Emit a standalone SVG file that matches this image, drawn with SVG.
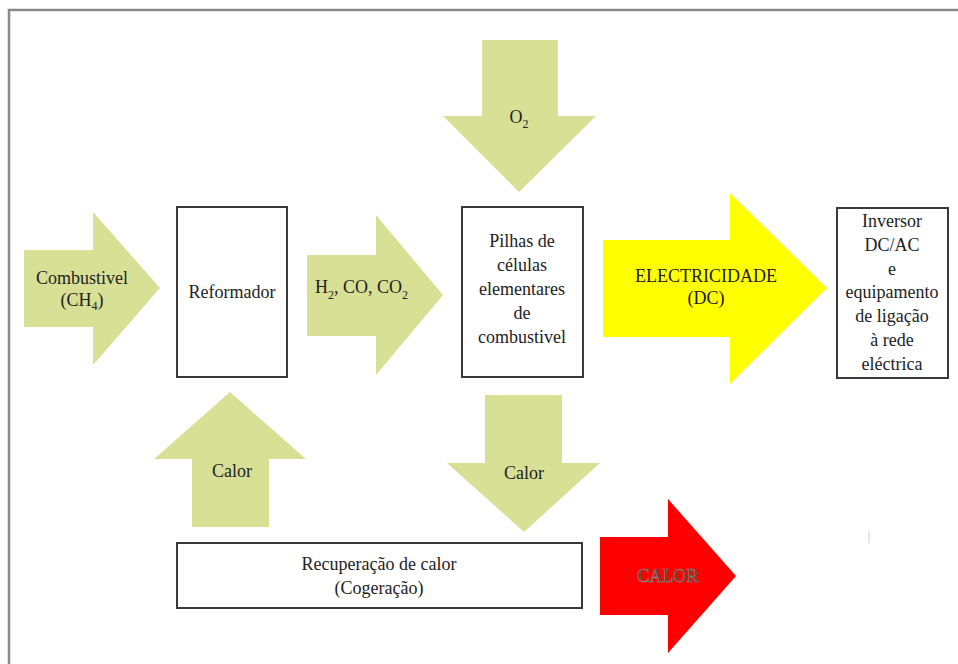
<svg xmlns="http://www.w3.org/2000/svg" width="958" height="664" viewBox="0 0 958 664" font-family="'Liberation Serif','DejaVu Serif',serif">
<style>
.t{font-family:'Liberation Serif','Times New Roman','DejaVu Serif',serif;font-size:18px;fill:#222;text-anchor:middle}
.s{text-anchor:start}
.g{fill:#d8e096}
.box{fill:#fff;stroke:#3a3a3a;stroke-width:2}
</style>
<rect width="958" height="664" fill="#fff"/>
<path d="M9,664 V10 H958" fill="none" stroke="#8a8a8a" stroke-width="2.5"/>
<g id="connectors">
<g id="arrow-combustivel">
<polygon class="g" points="24,250 93,250 93,212 160,288 93,365 93,327 24,327"/>
<text class="t" x="82" y="284">Combustivel</text>
<text class="t" x="82" y="306">(CH<tspan font-size="12" dy="4">4</tspan><tspan dy="-4">)</tspan></text>
</g>
<g id="arrow-h2">
<polygon class="g" points="307,255 376,255 376,215 443,295 376,375 376,336 307,336"/>
<text class="t s" x="315" y="293">H<tspan font-size="12" dy="6">2</tspan><tspan dy="-6">, CO, CO</tspan><tspan font-size="12" dy="6">2</tspan></text>
</g>
<g id="arrow-o2">
<polygon class="g" points="482,40 558,40 558,116 596,116 519,192 443,116 482,116"/>
<text class="t" x="519" y="123">O<tspan font-size="12" dy="5">2</tspan></text>
</g>
<g id="arrow-electricidade">
<polygon points="603,240 730,240 730,193 827,288 730,384 730,337 603,337" fill="#ffff00"/>
<text class="t" x="706" y="282">ELECTRICIDADE</text>
<text class="t" x="706" y="304">(DC)</text>
</g>
<g id="arrow-calor-up">
<polygon class="g" points="230,392 306,459 269,459 269,527 192,527 192,459 154,459"/>
<text class="t" x="232" y="477">Calor</text>
</g>
<g id="arrow-calor-down">
<polygon class="g" points="485,395 562,395 562,463 600,463 524,532 447,463 485,463"/>
<text class="t" x="524" y="479">Calor</text>
</g>
<g id="arrow-calor-out">
<polygon points="600,537 668,537 668,499 736,576 668,653 668,615 600,615" fill="#ff0000"/>
<text class="t" x="668" y="582" style="fill:#333;stroke:#8a8a8a;stroke-width:0.6">CALOR</text>
</g>
</g>
<g id="node-reformador">
<rect class="box" x="177" y="207" width="110" height="170"/>
<text class="t" x="232" y="298">Reformador</text>
</g>
<g id="node-pilhas">
<rect class="box" x="462" y="207" width="121" height="170"/>
<text class="t" x="522" y="247">Pilhas de</text>
<text class="t" x="522" y="271">células</text>
<text class="t" x="522" y="295">elementares</text>
<text class="t" x="522" y="319">de</text>
<text class="t" x="522" y="343">combustivel</text>
</g>
<g id="node-inversor">
<rect class="box" x="837" y="208" width="111" height="170"/>
<text class="t" x="892" y="227">Inversor</text>
<text class="t" x="892" y="251">DC/AC</text>
<text class="t" x="892" y="275">e</text>
<text class="t" x="892" y="298">equipamento</text>
<text class="t" x="892" y="322">de ligação</text>
<text class="t" x="892" y="346">à rede</text>
<text class="t" x="892" y="370">eléctrica</text>
</g>
<g id="node-recuperacao">
<rect class="box" x="177" y="543" width="405" height="65"/>
<text class="t" x="379" y="570">Recuperação de calor</text>
<text class="t" x="379" y="594">(Cogeração)</text>
</g>
<line x1="869" y1="531" x2="869" y2="543" stroke="#c8d0d8" stroke-width="1"/>
</svg>
